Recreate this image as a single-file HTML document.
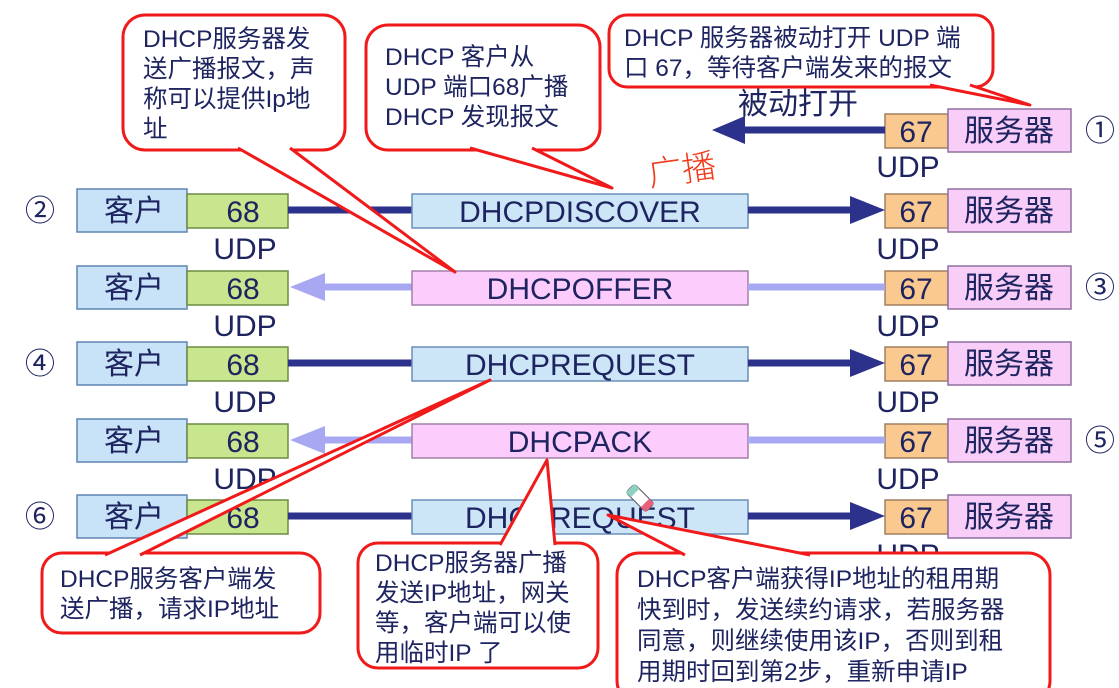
<!DOCTYPE html>
<html><head><meta charset="utf-8"><style>
html,body{margin:0;padding:0;background:#fff;}
svg{display:block;}
text{font-family:"Liberation Sans","Noto Sans CJK SC",sans-serif;fill:#1e2460;}
.b{font-size:30px;}
.c{font-size:24.5px;}
</style></head><body>
<svg width="1119" height="688" viewBox="0 0 1119 688" xmlns="http://www.w3.org/2000/svg">
<defs>
<g id="cli">
<rect x="77" y="-21" width="110" height="43" fill="#c8e3f7" stroke="#5f84b4" stroke-width="1.5"/>
<rect x="187" y="-16" width="101" height="34" fill="#c8e68e" stroke="#6d8c44" stroke-width="1.5"/>
<text class="b" x="134" y="11" text-anchor="middle">客户</text>
<text class="b" x="243" y="12" text-anchor="middle">68</text>
</g>
<g id="srv">
<rect x="885" y="-16" width="63" height="34" fill="#f9c98f" stroke="#a08060" stroke-width="1.5"/>
<rect x="948" y="-21" width="123" height="43" fill="#f8cdf8" stroke="#9070a0" stroke-width="1.5"/>
<text class="b" x="916" y="12" text-anchor="middle">67</text>
<text class="b" x="1009" y="11" text-anchor="middle">服务器</text>
</g>
</defs>

<g transform="translate(0,130)">
<use href="#srv"/>
<line x1="740" y1="0" x2="885" y2="0" stroke="#2c318c" stroke-width="7"/>
<polygon points="712,0 745,-14 745,14" fill="#2c318c"/>
<text class="b" x="1100" y="11" text-anchor="middle">①</text>
</g>
<text class="b" x="798" y="114" text-anchor="middle">被动打开</text>
<text class="b" x="908" y="177" text-anchor="middle">UDP</text>

<g transform="translate(0,210)">
<use href="#cli"/><use href="#srv"/>
<line x1="288" y1="0" x2="412" y2="0" stroke="#2c318c" stroke-width="7"/>
<rect x="412" y="-16" width="336" height="34" fill="#cce6f8" stroke="#6b8fb8" stroke-width="1.5"/>
<text class="b" x="580" y="12" text-anchor="middle">DHCPDISCOVER</text>
<line x1="748" y1="0" x2="855" y2="0" stroke="#2c318c" stroke-width="7"/>
<polygon points="885,0 850,-14 850,14" fill="#2c318c"/>
<text class="b" x="40" y="11" text-anchor="middle">②</text>
</g>
<g transform="translate(0,287)">
<use href="#cli"/><use href="#srv"/>
<line x1="320" y1="0" x2="412" y2="0" stroke="#a8a8f2" stroke-width="7"/>
<polygon points="290,0 325,-14 325,14" fill="#a8a8f2"/>
<rect x="412" y="-16" width="336" height="34" fill="#fccdfc" stroke="#a080a8" stroke-width="1.5"/>
<text class="b" x="580" y="12" text-anchor="middle">DHCPOFFER</text>
<line x1="748" y1="0" x2="885" y2="0" stroke="#a8a8f2" stroke-width="7"/>
<text class="b" x="1100" y="11" text-anchor="middle">③</text>
</g>
<g transform="translate(0,363)">
<use href="#cli"/><use href="#srv"/>
<line x1="288" y1="0" x2="412" y2="0" stroke="#2c318c" stroke-width="7"/>
<rect x="412" y="-16" width="336" height="34" fill="#cce6f8" stroke="#6b8fb8" stroke-width="1.5"/>
<text class="b" x="580" y="12" text-anchor="middle">DHCPREQUEST</text>
<line x1="748" y1="0" x2="855" y2="0" stroke="#2c318c" stroke-width="7"/>
<polygon points="885,0 850,-14 850,14" fill="#2c318c"/>
<text class="b" x="40" y="11" text-anchor="middle">④</text>
</g>
<g transform="translate(0,440)">
<use href="#cli"/><use href="#srv"/>
<line x1="320" y1="0" x2="412" y2="0" stroke="#a8a8f2" stroke-width="7"/>
<polygon points="290,0 325,-14 325,14" fill="#a8a8f2"/>
<rect x="412" y="-16" width="336" height="34" fill="#fccdfc" stroke="#a080a8" stroke-width="1.5"/>
<text class="b" x="580" y="12" text-anchor="middle">DHCPACK</text>
<line x1="748" y1="0" x2="885" y2="0" stroke="#a8a8f2" stroke-width="7"/>
<text class="b" x="1100" y="11" text-anchor="middle">⑤</text>
</g>
<g transform="translate(0,516)">
<use href="#cli"/><use href="#srv"/>
<line x1="288" y1="0" x2="412" y2="0" stroke="#2c318c" stroke-width="7"/>
<rect x="412" y="-16" width="336" height="34" fill="#cce6f8" stroke="#6b8fb8" stroke-width="1.5"/>
<text class="b" x="580" y="12" text-anchor="middle">DHCPREQUEST</text>
<line x1="748" y1="0" x2="855" y2="0" stroke="#2c318c" stroke-width="7"/>
<polygon points="885,0 850,-14 850,14" fill="#2c318c"/>
<text class="b" x="40" y="11" text-anchor="middle">⑥</text>
</g>
<text class="b" x="245" y="259" text-anchor="middle">UDP</text>
<text class="b" x="908" y="259" text-anchor="middle">UDP</text>
<text class="b" x="245" y="336" text-anchor="middle">UDP</text>
<text class="b" x="908" y="336" text-anchor="middle">UDP</text>
<text class="b" x="245" y="412" text-anchor="middle">UDP</text>
<text class="b" x="908" y="412" text-anchor="middle">UDP</text>
<text class="b" x="245" y="489" text-anchor="middle">UDP</text>
<text class="b" x="908" y="489" text-anchor="middle">UDP</text>
<text class="b" x="908" y="565" text-anchor="middle">UDP</text>

<g transform="translate(640,498) rotate(-45)">
<rect x="-6" y="-14" width="12" height="28" rx="3" fill="#fff" stroke="#556" stroke-width="1"/>
<rect x="-6" y="-14" width="12" height="7" fill="#8fd0c0"/>
<rect x="-6" y="7" width="12" height="7" fill="#e8607a"/>
</g>

<text x="648" y="182" transform="rotate(-8 680 170)" style="font-size:34px;fill:#f03a1a;font-family:'WenQuanYi Zen Hei','Noto Sans CJK SC',sans-serif;font-weight:300">广播</text>

<g fill="#fff" stroke="#f01a1a" stroke-width="3" stroke-linejoin="round">
<rect x="123" y="15" width="222" height="135" rx="22"/>
<path d="M238,148 L455,272 L290,148"/>
<rect x="366" y="25" width="234" height="125" rx="22"/>
<path d="M470,148 L612,188 L532,148"/>
<rect x="609" y="15" width="384" height="72" rx="18"/>
<path d="M930,85 L1030,105 L970,85"/>
<rect x="42" y="553" width="278" height="80" rx="20"/>
<path d="M105,555 L490,380 L140,555"/>
<rect x="358" y="543" width="240" height="125" rx="20"/>
<path d="M500,545 L547,460 L555,545"/>
<rect x="617" y="553" width="433" height="150" rx="22"/>
<path d="M685,555 L608,515 L810,555"/>
</g>
<text class="c" x="143" y="47">DHCP服务器发</text>
<text class="c" x="143" y="77">送广播报文，声</text>
<text class="c" x="143" y="107">称可以提供Ip地</text>
<text class="c" x="143" y="137">址</text>
<text class="c" x="385" y="65">DHCP 客户从</text>
<text class="c" x="385" y="95">UDP 端口68广播</text>
<text class="c" x="385" y="125">DHCP 发现报文</text>
<text class="c" x="624" y="46">DHCP 服务器被动打开 UDP 端</text>
<text class="c" x="624" y="76">口 67，等待客户端发来的报文</text>
<text class="c" x="60" y="587">DHCP服务客户端发</text>
<text class="c" x="60" y="617">送广播，请求IP地址</text>
<text class="c" x="375" y="571">DHCP服务器广播</text>
<text class="c" x="375" y="601">发送IP地址，网关</text>
<text class="c" x="375" y="631">等，客户端可以使</text>
<text class="c" x="375" y="661">用临时IP 了</text>
<text class="c" x="637" y="587">DHCP客户端获得IP地址的租用期</text>
<text class="c" x="637" y="618">快到时，发送续约请求，若服务器</text>
<text class="c" x="637" y="649">同意，则继续使用该IP，否则到租</text>
<text class="c" x="637" y="680">用期时回到第2步，重新申请IP</text>
</svg>
</body></html>
